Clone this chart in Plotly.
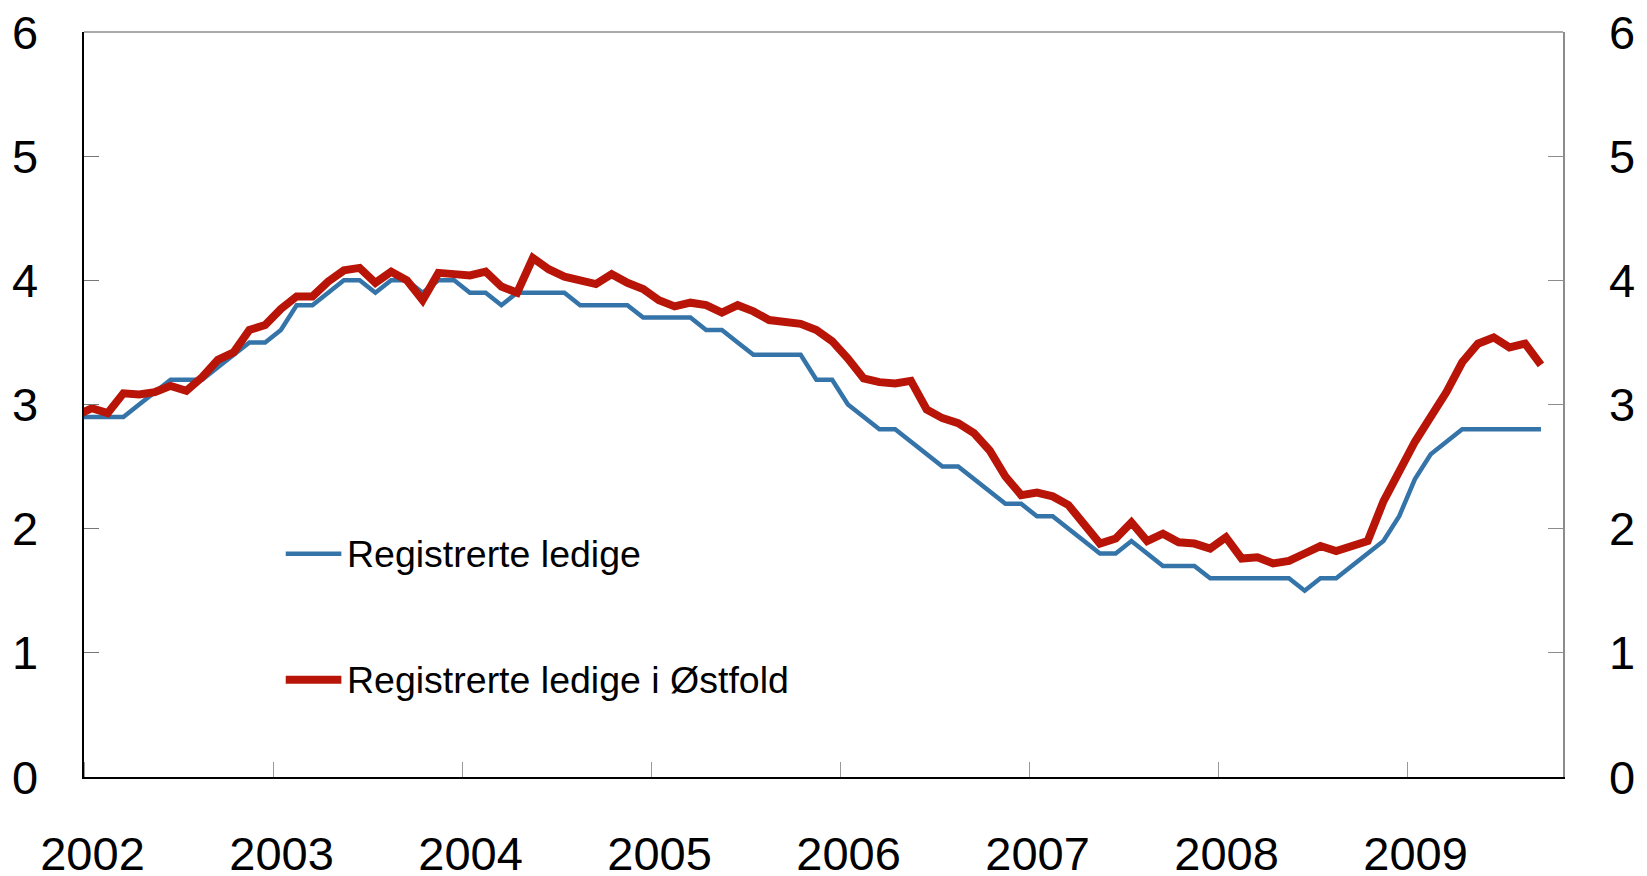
import plotly.graph_objects as go

# monthly observations, Dec 2001 (clipped at the left edge) to Sep 2009
months = [f"{y}-{m:02d}" for y in range(2001, 2010) for m in range(1, 13)]
months = months[11:11 + 94]

registrerte_ledige = [
    2.9,
    2.9, 2.9, 2.9, 3.0, 3.1, 3.2, 3.2, 3.2, 3.3, 3.4, 3.5, 3.5,
    3.6, 3.8, 3.8, 3.9, 4.0, 4.0, 3.9, 4.0, 4.0, 3.9, 4.0, 4.0,
    3.9, 3.9, 3.8, 3.9, 3.9, 3.9, 3.9, 3.8, 3.8, 3.8, 3.8, 3.7,
    3.7, 3.7, 3.7, 3.6, 3.6, 3.5, 3.4, 3.4, 3.4, 3.4, 3.2, 3.2,
    3.0, 2.9, 2.8, 2.8, 2.7, 2.6, 2.5, 2.5, 2.4, 2.3, 2.2, 2.2,
    2.1, 2.1, 2.0, 1.9, 1.8, 1.8, 1.9, 1.8, 1.7, 1.7, 1.7, 1.6,
    1.6, 1.6, 1.6, 1.6, 1.6, 1.5, 1.6, 1.6, 1.7, 1.8, 1.9, 2.1,
    2.4, 2.6, 2.7, 2.8, 2.8, 2.8, 2.8, 2.8, 2.8,
]

ledige_ostfold = [
    2.91,
    2.97, 2.93, 3.09, 3.08, 3.10, 3.15, 3.11, 3.22, 3.36, 3.42, 3.60, 3.64,
    3.77, 3.87, 3.87, 3.99, 4.08, 4.10, 3.98, 4.07, 4.00, 3.84, 4.06, 4.05,
    4.04, 4.07, 3.95, 3.90, 4.18, 4.09, 4.03, 4.00, 3.97, 4.05, 3.98, 3.93,
    3.84, 3.79, 3.82, 3.80, 3.74, 3.80, 3.75, 3.68, 3.67, 3.65, 3.60, 3.51,
    3.37, 3.21, 3.18, 3.17, 3.19, 2.96, 2.89, 2.85, 2.77, 2.63, 2.42, 2.27,
    2.29, 2.26, 2.19, 2.04, 1.88, 1.92, 2.05, 1.90, 1.96, 1.89, 1.88, 1.84,
    1.93, 1.76, 1.77, 1.72, 1.74, 1.80, 1.86, 1.82, 1.86, 1.90, 2.22, 2.47,
    2.70, 2.90, 3.10, 3.34, 3.49, 3.54, 3.46, 3.49, 3.32,
]

years = ["2002", "2003", "2004", "2005", "2006", "2007", "2008", "2009"]
y_ticks = [0, 1, 2, 3, 4, 5, 6]

BLUE = '#3574a9'
RED = '#b81407'
FONT = 'Liberation Sans, Arial, sans-serif'

# points sit in the middle of each month
x = [int(m[:4]) + (int(m[5:]) - 0.5) / 12 for m in months]

fig = go.Figure()
fig.add_trace(go.Scatter(x=x, y=registrerte_ledige, mode='lines', name='Registrerte ledige',
                         line=dict(color=BLUE, width=4.5), showlegend=False))
fig.add_trace(go.Scatter(x=x, y=ledige_ostfold, mode='lines', name='Registrerte ledige i Østfold',
                         line=dict(color=RED, width=8), yaxis='y2', showlegend=False))

# legend drawn by hand inside the plot
legend_items = [('Registrerte ledige', BLUE, 4.5, 0.2997), ('Registrerte ledige i Østfold', RED, 8, 0.1307)]
for label, color, w, ly in legend_items:
    fig.add_shape(type='line', xref='paper', yref='paper', x0=0.1364, x1=0.174, y0=ly, y1=ly,
                  line=dict(color=color, width=w))
    fig.add_annotation(text=label, xref='paper', yref='paper', x=0.1765, y=ly, xanchor='left',
                       yanchor='middle', showarrow=False, font=dict(size=37.5, color='black', family=FONT))

# y tick labels on both sides as annotations (the top "6" would be dropped as a tick label)
for v in y_ticks:
    fig.add_annotation(text=str(v), xref='paper', yref='y', x=0, y=v, xanchor='right', yanchor='middle',
                       xshift=-44, showarrow=False, font=dict(size=47, color='black', family=FONT))
    fig.add_annotation(text=str(v), xref='paper', yref='y', x=1, y=v, xanchor='left', yanchor='middle',
                       xshift=44, showarrow=False, font=dict(size=47, color='black', family=FONT))

# grey top frame line
fig.add_shape(type='line', xref='paper', yref='paper', x0=0, x1=1, y0=1, y1=1,
              line=dict(color='#8c8c8c', width=1.5))

fig.update_layout(
    width=1647, height=876,
    margin=dict(l=76, r=92, t=24, b=107),
    plot_bgcolor='white', paper_bgcolor='white',
    font=dict(family=FONT, size=47, color='black'),
    xaxis=dict(range=[2002, 2009.825], tickvals=[int(y) + 0.045 for y in years], ticktext=years,
               ticks='', showgrid=False, zeroline=False, showline=True, linecolor='black', linewidth=1.5,
               ticklabelstandoff=35, automargin=False,
               minor=dict(tickmode='linear', tick0=2002, dtick=1, ticks='inside', ticklen=15,
                          tickcolor='#999999', tickwidth=1, showgrid=False)),
    yaxis=dict(range=[0, 6], tickvals=y_ticks, ticks='inside', ticklen=15, tickcolor='#777777',
               showticklabels=False, showgrid=False, zeroline=False, showline=True,
               linecolor='black', linewidth=1.5, automargin=False),
    yaxis2=dict(range=[0, 6], tickvals=y_ticks, ticks='inside', ticklen=15, tickcolor='#8c8c8c',
                overlaying='y', side='right', showticklabels=False, showgrid=False, zeroline=False,
                showline=True, linecolor='#8c8c8c', linewidth=2, automargin=False),
)

fig.write_html("out.html")
